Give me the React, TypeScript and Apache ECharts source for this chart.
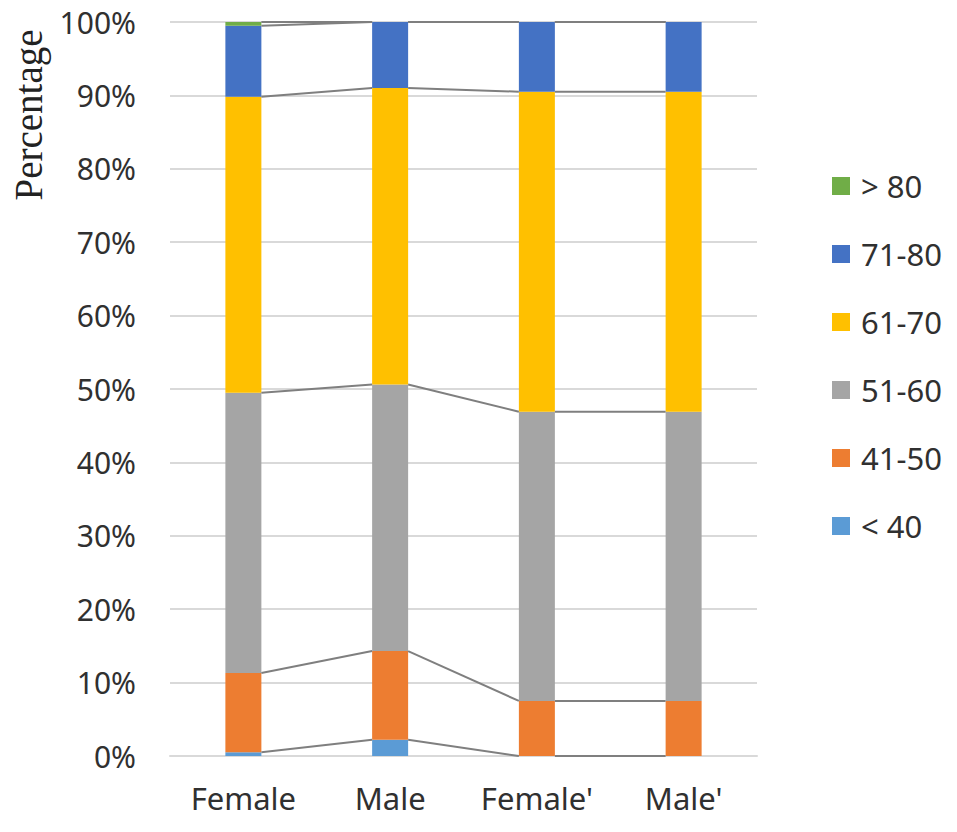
import React, { useEffect, useRef } from "react";
import * as echarts from "echarts";

const categories = ["Female", "Male", "Female'", "Male'"];
const seriesNames = ["< 40", "41-50", "51-60", "61-70", "71-80", "> 80"];
const lt40 = [0.5, 2.2, 0, 0];
const s41to50 = [10.8, 12.1, 7.5, 7.5];
const s51to60 = [38.2, 36.3, 39.4, 39.4];
const s61to70 = [40.3, 40.4, 43.6, 43.6];
const s71to80 = [9.7, 9.0, 9.5, 9.5];
const gt80 = [0.5, 0, 0, 0];
const colors = ["#5B9BD5", "#ED7D31", "#A5A5A5", "#FFC000", "#4472C4", "#70AD47"];
const legendOrder = ["> 80", "71-80", "61-70", "51-60", "41-50", "< 40"];

const BAR_W = 36;

export default function App() {
  const ref = useRef<HTMLDivElement>(null);
  useEffect(() => {
    document.body.style.margin = "0";
    if (!ref.current) return;
    const chart = echarts.init(ref.current, null, { renderer: "svg" });
    const all = [lt40, s41to50, s51to60, s61to70, s71to80, gt80];
    // cumulative tops for series lines
    const cum: number[][] = [];
    let run = categories.map(() => 0);
    all.forEach((arr) => {
      run = run.map((v, i) => v + arr[i]);
      cum.push(run.slice());
    });
    const lineData: number[][] = [];
    cum.forEach((c) => {
      for (let i = 0; i < categories.length - 1; i++) {
        lineData.push([i, c[i], c[i + 1]]);
      }
    });
    const font = "Noto Sans";
    chart.setOption({
      animation: false,
      grid: { left: 170, right: 200, top: 22, bottom: 76 },
      legend: {
        orient: "vertical",
        left: 827,
        top: 164,
        itemWidth: 18,
        itemHeight: 18,
        itemGap: 34,
        data: legendOrder,
        icon: "rect",
        textStyle: { fontSize: 31, lineHeight: 34, color: "#303030", fontFamily: font, padding: [0, 0, 0, 6] },
      },
      graphic: [
        {
          type: "text",
          x: 28,
          y: 115,
          rotation: Math.PI / 2,
          style: {
            text: "Percentage",
            align: "center",
            verticalAlign: "middle",
            fontSize: 39,
            fontFamily: "Liberation Serif",
            fill: "#222",
          },
        },
      ],
      xAxis: {
        type: "category",
        data: categories,
        axisTick: { show: false },
        axisLine: { lineStyle: { color: "#D9D9D9", width: 2 } },
        axisLabel: { fontSize: 31, color: "#303030", fontFamily: font, margin: 26 },
      },
      yAxis: {
        type: "value",
        min: 0,
        max: 100,
        interval: 10,
        axisLabel: {
          formatter: "{value}%",
          fontSize: 30,
          lineHeight: 30,
          color: "#303030",
          fontFamily: font,
          margin: 34,
        },
        splitLine: { lineStyle: { color: "#D9D9D9", width: 2 } },
        axisLine: { show: false },
        axisTick: { show: false },
      },
      series: [
        ...all.map((arr, k) => ({
          name: seriesNames[k],
          type: "bar",
          stack: "total",
          barWidth: BAR_W,
          data: arr,
          itemStyle: { color: colors[k] },
        })),
        {
          type: "custom",
          name: "series-lines",
          z: 5,
          data: lineData,
          encode: { x: 0, y: [1, 2] },
          renderItem: (params: any, api: any) => {
            const i = api.value(0);
            const a = api.value(1);
            const b = api.value(2);
            const p1 = api.coord([i, a]);
            const p2 = api.coord([i + 1, b]);
            const w = BAR_W / 2;
            return {
              type: "line",
              shape: { x1: p1[0] + w, y1: p1[1], x2: p2[0] - w, y2: p2[1] },
              style: { stroke: "#7F7F7F", lineWidth: 2 },
            };
          },
        },
      ],
    });
    return () => chart.dispose();
  }, []);
  return <div ref={ref} style={{ width: 957, height: 832 }} />;
}
